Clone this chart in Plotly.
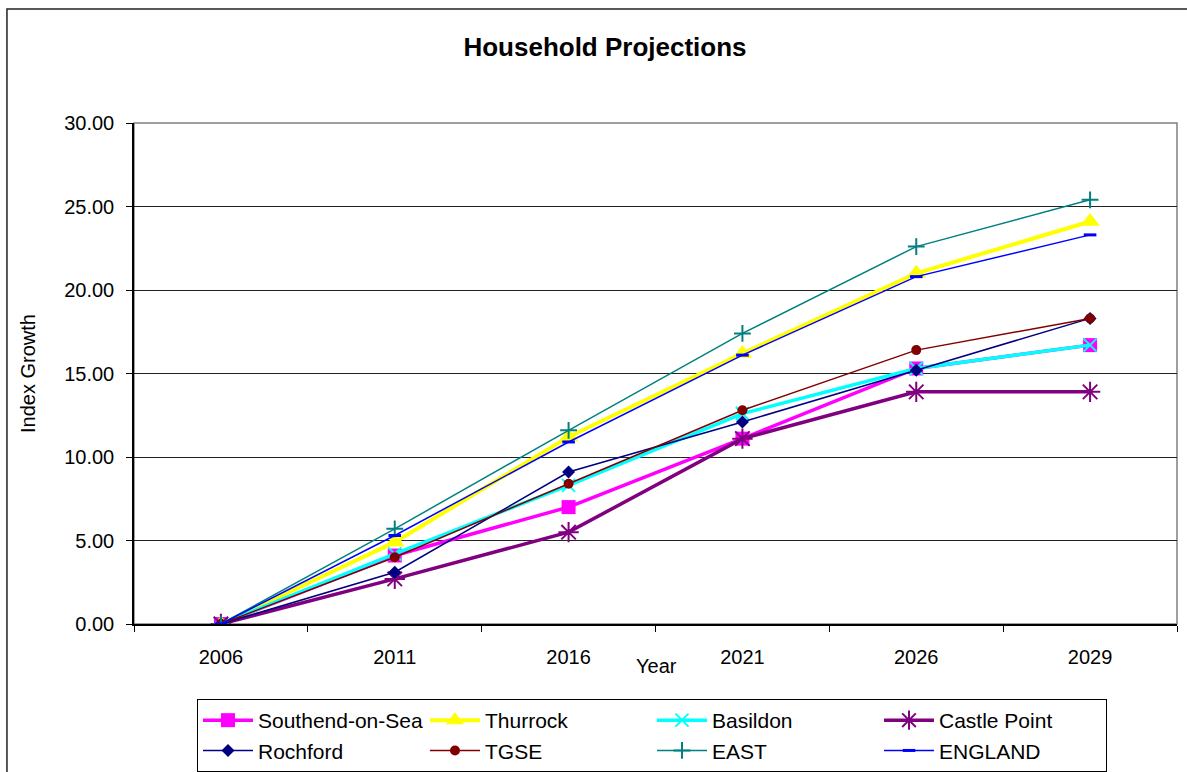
import plotly.graph_objects as go

years = ["2006", "2011", "2016", "2021", "2026", "2029"]

southend = [0.0, 4.1, 7.0, 11.1, 15.3, 16.7]
thurrock = [0.0, 4.9, 11.2, 16.2, 21.0, 24.1]
basildon = [0.0, 4.2, 8.3, 12.6, 15.3, 16.7]
castle_point = [0.0, 2.7, 5.5, 11.1, 13.9, 13.9]
rochford = [0.0, 3.1, 9.1, 12.1, 15.2, 18.3]
tgse = [0.0, 4.0, 8.4, 12.8, 16.4, 18.3]
east = [0.0, 5.7, 11.6, 17.4, 22.6, 25.4]
england = [0.0, 5.3, 10.9, 16.1, 20.8, 23.3]

# name, values, colour, line width, marker symbol, marker size
series = [
    ("Southend-on-Sea", southend, "#FF00FF", 3.5, "square", 14),
    ("Thurrock", thurrock, "#FFFF00", 4, "triangle-up", 17),
    ("Basildon", basildon, "#00FFFF", 3.5, "x-thin-open", 13),
    ("Castle Point", castle_point, "#800080", 3.5, "asterisk-open", 17),
    ("Rochford", rochford, "#000080", 1.5, "diamond", 10),
    ("TGSE", tgse, "#800000", 1.5, "circle", 10),
    ("EAST", east, "#008080", 1.5, "cross-thin-open", 12),
    ("ENGLAND", england, "#0000FF", 1.5, "line-ew-open", 9),
]

fig = go.Figure()
for name, vals, color, lw, sym, size in series:
    marker = dict(symbol=sym, size=size, color=color)
    if sym.endswith("-open"):
        marker["line"] = dict(color=color, width=3 if sym == "line-ew-open" else 2)
    fig.add_trace(
        go.Scatter(
            x=years,
            y=vals,
            name=name,
            mode="lines+markers",
            line=dict(color=color, width=lw),
            marker=marker,
        )
    )

# outer chart border (frame runs off the right and bottom of the picture)
fig.add_shape(type="rect", xref="paper", yref="paper",
              x0=-0.1218, x1=1.03, y0=-0.34, y1=1.2275,
              line=dict(color="#222222", width=1.5), layer="below")
# grey plot-area frame (top and right)
fig.add_shape(type="rect", xref="paper", yref="paper",
              x0=0, x1=1, y0=0, y1=1,
              line=dict(color="#808080", width=1.5), layer="below")

fig.add_annotation(text="Year", xref="paper", yref="paper", x=0.5014, y=-0.0838,
                   showarrow=False, font=dict(size=20, color="black"),
                   xanchor="center", yanchor="middle")
fig.add_annotation(text="Index Growth", xref="paper", yref="paper", x=-0.1016, y=0.499,
                   showarrow=False, textangle=-90, font=dict(size=20, color="black"),
                   xanchor="center", yanchor="middle")

fig.update_layout(
    width=1187,
    height=772,
    margin=dict(l=134, r=10, t=123, b=148, autoexpand=False),
    paper_bgcolor="white",
    plot_bgcolor="white",
    font=dict(family="Arial, Liberation Sans, sans-serif", color="black"),
    title=dict(text="<b>Household Projections</b>", x=0.5097, y=0.939,
               xanchor="center", yanchor="middle", font=dict(size=26, color="black")),
    legend=dict(
        orientation="h",
        x=0.0604, y=-0.1497, xanchor="left", yanchor="top",
        bordercolor="black", borderwidth=1, bgcolor="white",
        font=dict(size=21, color="black"),
        itemwidth=50,
        entrywidth=162,
        entrywidthmode="pixels",
    ),
    showlegend=True,
)

fig.update_xaxes(
    type="category",
    range=[-0.5, 5.5],
    tickson="boundaries",
    ticks="outside",
    ticklen=6,
    tickcolor="black",
    showgrid=False,
    showline=True,
    linecolor="black",
    linewidth=1.5,
    tickfont=dict(size=20, color="black"),
    ticklabelstandoff=14,
    zeroline=False,
)
fig.update_yaxes(
    range=[0, 30],
    dtick=5,
    tickformat=".2f",
    ticks="outside",
    ticklen=6,
    tickcolor="black",
    showgrid=True,
    gridcolor="#222222",
    gridwidth=1,
    showline=True,
    linecolor="black",
    linewidth=1.5,
    tickfont=dict(size=20, color="black"),
    ticklabelstandoff=8,
    zeroline=False,
)

# drop the default page margin so the figure sits at the window corner
fig.write_html(
    "out.html",
    config={"displayModeBar": False},
    post_script="document.body.style.margin = '0px';",
)
